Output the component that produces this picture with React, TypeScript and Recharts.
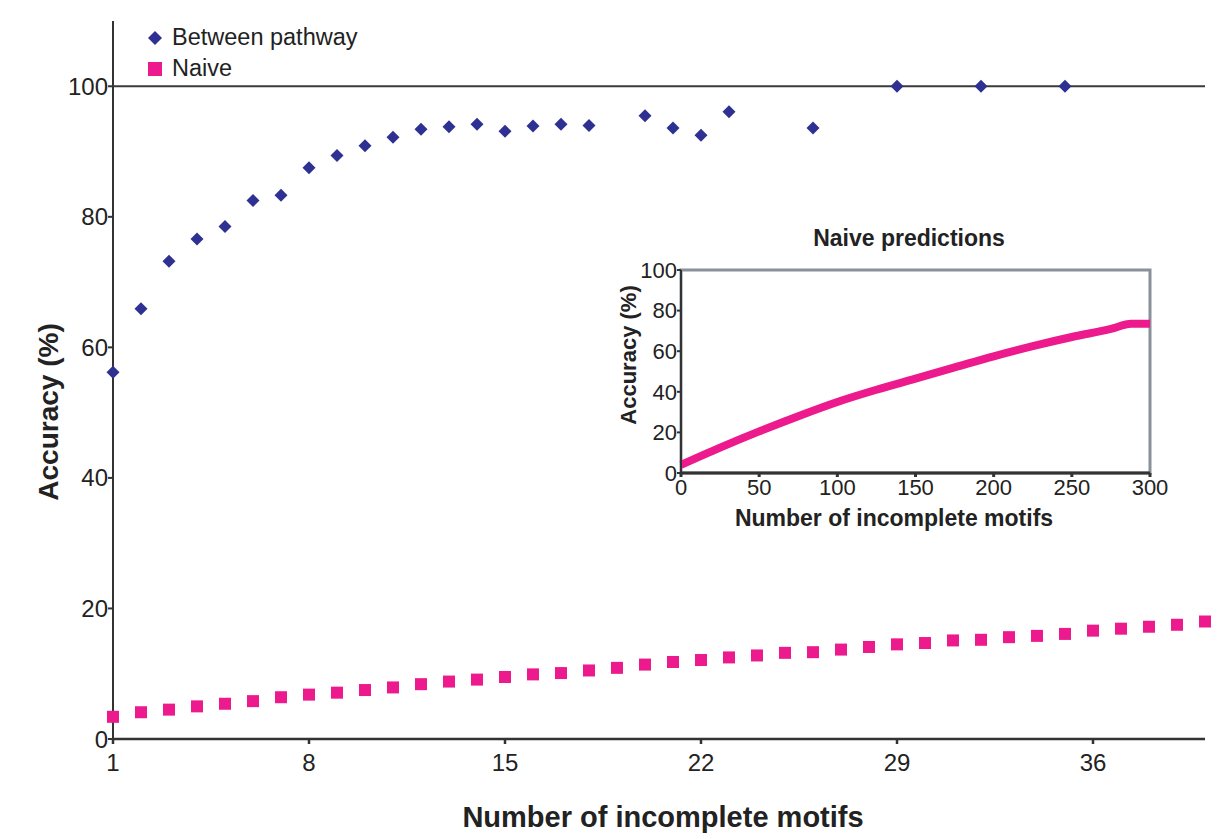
import {
  ScatterChart,
  Scatter,
  XAxis,
  YAxis,
  ReferenceLine,
  Legend,
  LineChart,
  Line,
  ReferenceArea,
} from 'recharts';

// main panel: accuracy vs number of incomplete motifs
const betweenX = [1, 2, 3, 4, 5, 6, 7, 8, 9, 10, 11, 12, 13, 14, 15, 16, 17, 18, 20, 21, 22, 23, 26, 29, 32, 35];
const betweenY = [56.2, 65.9, 73.2, 76.6, 78.5, 82.5, 83.3, 87.5, 89.4, 90.9, 92.2, 93.4, 93.8, 94.2, 93.1, 93.9, 94.2, 94.0, 95.5, 93.6, 92.5, 96.1, 93.6, 100, 100, 100];

const naiveX = [1, 2, 3, 4, 5, 6, 7, 8, 9, 10, 11, 12, 13, 14, 15, 16, 17, 18, 19, 20, 21, 22, 23, 24, 25, 26, 27, 28, 29, 30, 31, 32, 33, 34, 35, 36, 37, 38, 39, 40];
const naiveY = [3.4, 4.1, 4.5, 5.0, 5.4, 5.8, 6.4, 6.8, 7.1, 7.5, 7.9, 8.4, 8.8, 9.1, 9.5, 9.9, 10.1, 10.5, 10.9, 11.4, 11.8, 12.1, 12.5, 12.8, 13.2, 13.3, 13.7, 14.1, 14.5, 14.7, 15.1, 15.2, 15.6, 15.8, 16.1, 16.6, 16.9, 17.2, 17.5, 18.0];

const xTicks = [1, 8, 15, 22, 29, 36];
const yTicks = [0, 20, 40, 60, 80, 100];

// inset: naive predictions
const insetX = [0, 25, 50, 75, 100, 125, 150, 175, 200, 225, 250, 275, 288, 300];
const insetY = [4, 12.5, 20.5, 28, 35, 41, 46.5, 52, 57.5, 62.5, 67, 71, 73.5, 73.5];
const insetXTicks = [0, 50, 100, 150, 200, 250, 300];
const insetYTicks = [0, 20, 40, 60, 80, 100];

const betweenData = betweenX.map((x, i) => ({ x, y: betweenY[i] }));
const naiveData = naiveX.map((x, i) => ({ x, y: naiveY[i] }));
const insetData = insetX.map((x, i) => ({ x, y: insetY[i] }));

const FONT = '"Liberation Sans", Arial, Helvetica, sans-serif';
const BLUE = '#2e3192';
const PINK = '#ec1a8d';
const AXIS = '#333333';

const Diamond = (props: any) => {
  const { cx, cy } = props;
  const r = 6.5;
  return <polygon points={`${cx},${cy - r} ${cx + r},${cy} ${cx},${cy + r} ${cx - r},${cy}`} fill={BLUE} />;
};

const Square = (props: any) => {
  const { cx, cy } = props;
  return <rect x={cx - 6} y={cy - 6} width={12} height={12} fill={PINK} />;
};

const renderLegend = (props: any) => {
  const { payload } = props;
  return (
    <div style={{ fontFamily: FONT, fontSize: 23.5, color: '#222' }}>
      {(payload || []).map((entry: any) => (
        <div key={entry.value} style={{ display: 'flex', alignItems: 'center', height: 31 }}>
          <svg width={27} height={16} style={{ flex: 'none' }}>
            {entry.value === 'Naive' ? (
              <rect x={3} y={1} width={14} height={14} fill={PINK} />
            ) : (
              <polygon points="10,1 17,8 10,15 3,8" fill={BLUE} />
            )}
          </svg>
          <span>{entry.value}</span>
        </div>
      ))}
    </div>
  );
};

function Inset() {
  return (
    <div style={{ position: 'absolute', left: 580, top: 220 }}>
      <LineChart width={600} height={320} data={insetData} margin={{ top: 50, right: 30, bottom: 37, left: 51 }}>
        <ReferenceArea x1={0} x2={300} y1={0} y2={100} fill="none" stroke="#8a9199" strokeWidth={3} ifOverflow="visible" />
        <XAxis
          dataKey="x"
          type="number"
          domain={[0, 300]}
          ticks={insetXTicks}
          height={30}
          tickSize={4}
          tickMargin={2}
          stroke={AXIS}
          strokeWidth={3}
          tick={{ fill: '#222', fontSize: 22, fontFamily: FONT }}
          label={{
            content: () => (
              <text x={314} y={306} textAnchor="middle" fontFamily={FONT} fontSize={23} fontWeight="bold" fill="#222">
                Number of incomplete motifs
              </text>
            ),
          }}
        />
        <YAxis
          type="number"
          domain={[0, 100]}
          ticks={insetYTicks}
          width={50}
          tickSize={4}
          tickMargin={0}
          stroke={AXIS}
          strokeWidth={2}
          tick={{ fill: '#222', fontSize: 22, fontFamily: FONT }}
          label={{
            content: () => (
              <text x={48} y={135} transform="rotate(-90 48 135)" textAnchor="middle" dominantBaseline="central" fontFamily={FONT} fontSize={22} fontWeight="bold" fill="#222">
                Accuracy (%)
              </text>
            ),
          }}
        />
        <Line dataKey="y" type="monotone" stroke={PINK} strokeWidth={8} dot={false} isAnimationActive={false} />
        <text x={329} y={26} textAnchor="middle" fontFamily={FONT} fontSize={23} fontWeight="bold" fill="#222">
          Naive predictions
        </text>
      </LineChart>
    </div>
  );
}

export default function App() {
  return (
    <div style={{ position: 'absolute', left: 0, top: 0, width: 1226, height: 839, background: '#fff', overflow: 'hidden' }}>
      <ScatterChart width={1226} height={839} margin={{ top: 21, right: 21, bottom: 40, left: 43 }}>
        <XAxis
          dataKey="x"
          type="number"
          domain={[1, 40]}
          ticks={xTicks}
          height={60}
          tickSize={5}
          tickMargin={10}
          stroke={AXIS}
          strokeWidth={2.5}
          tick={{ fill: '#222', fontSize: 24, fontFamily: FONT }}
          label={{
            content: () => (
              <text x={663} y={827} textAnchor="middle" fontFamily={FONT} fontSize={29} fontWeight="bold" fill="#222">
                Number of incomplete motifs
              </text>
            ),
          }}
        />
        <YAxis
          dataKey="y"
          type="number"
          domain={[0, 110]}
          ticks={yTicks}
          width={70}
          tickSize={5}
          tickMargin={0}
          stroke={AXIS}
          strokeWidth={2}
          tick={{ fill: '#222', fontSize: 24, fontFamily: FONT }}
          label={{
            content: () => (
              <text x={48} y={412} transform="rotate(-90 48 412)" textAnchor="middle" dominantBaseline="central" fontFamily={FONT} fontSize={28} fontWeight="bold" fill="#222">
                Accuracy (%)
              </text>
            ),
          }}
        />
        <ReferenceLine y={100} stroke="#3a3a3a" strokeWidth={2} />
        <Legend
          layout="horizontal"
          align="center"
          verticalAlign="middle"
          content={renderLegend}
          wrapperStyle={{ left: 145, top: 22, width: 280 }}
        />
        <Scatter name="Between pathway" data={betweenData} fill={BLUE} shape={Diamond} isAnimationActive={false} />
        <Scatter name="Naive" data={naiveData} fill={PINK} shape={Square} isAnimationActive={false} />
      </ScatterChart>
      <Inset />
    </div>
  );
}
